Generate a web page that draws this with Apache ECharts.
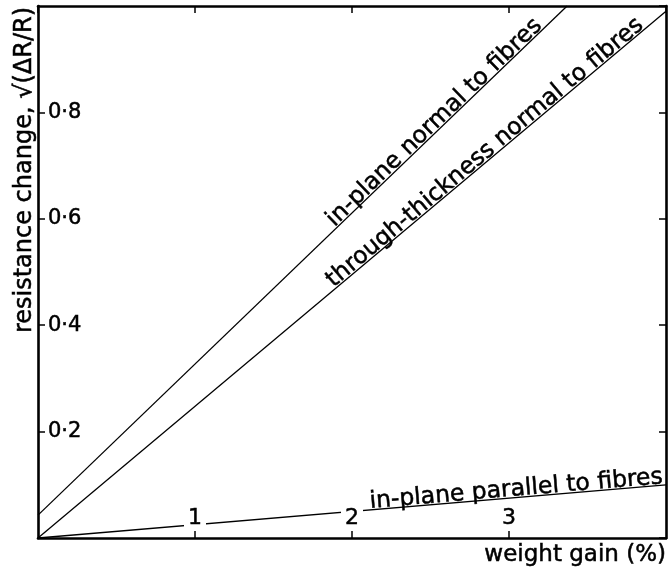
<!DOCTYPE html>
<html><head><meta charset="utf-8">
<script src="https://cdn.jsdelivr.net/npm/echarts@6/dist/echarts.min.js"></script>
<style>html,body{margin:0;padding:0;background:#fff}#c{width:670px;height:568px}</style>
</head><body><div id="c"></div>
<script>
// ---- data ----
const xTickValues = [1, 2, 3];
const yTickValues = [0.2, 0.4, 0.6, 0.8];
const yTickLabels = ['0·2', '0·4', '0·6', '0·8'];
const seriesNames = ['in-plane normal to fibres', 'through-thickness normal to fibres', 'in-plane parallel to fibres'];
const normalX = [0, 3.37];
const normalY = [0.043, 1.0];
const thickX = [0, 4.0];
const thickY = [0, 0.99];
const parallelX = [0, 4.0];
const parallelY = [0, 0.10];
const labelAtX = [2.56, 2.88, 3.05];
const xTitle = 'weight gain (%)';
const yTitle = 'resistance change, √(ΔR/R)';

const FONT = '"DejaVu Sans", "Noto Sans", sans-serif';
const chart = echarts.init(document.getElementById('c'), null, {renderer: 'canvas'});
const pts = (xs, ys) => xs.map((x, i) => [x, ys[i]]);
const lineSeries = (name, xs, ys) => ({
  name, type: 'line', data: pts(xs, ys), showSymbol: false, silent: true, clip: true,
  xAxisIndex: 0, yAxisIndex: 0,
  lineStyle: {color: '#000', width: 1.3}, z: 2
});
const mkLine = () => ({show: true, onZero: false, lineStyle: {color: '#000', width: 2.6}});
const mkTick = () => ({show: true, inside: true, length: 7, lineStyle: {color: '#000', width: 1.5}});

chart.setOption({
  animation: false,
  backgroundColor: '#fff',
  grid: {left: 38, right: 4, top: 6, bottom: 30},
  xAxis: [
    {type: 'value', min: 0, max: 4, interval: 1, position: 'bottom', z: 5,
     axisLine: mkLine(), axisTick: mkTick(), splitLine: {show: false},
     axisLabel: {inside: true, margin: 9, showMinLabel: false, showMaxLabel: false,
       formatter: v => xTickValues.includes(v) ? String(v) : '',
       color: '#000', fontSize: 22, fontFamily: FONT, backgroundColor: '#fff', padding: [0, 4],
       textBorderColor: '#000', textBorderWidth: 0.5}},
    {type: 'value', min: 0, max: 4, interval: 1, position: 'top',
     axisLine: mkLine(), axisTick: mkTick(), splitLine: {show: false}, axisLabel: {show: false}}
  ],
  yAxis: [
    {type: 'value', min: 0, max: 1, interval: 0.2, position: 'left',
     axisLine: mkLine(), axisTick: mkTick(), splitLine: {show: false},
     axisLabel: {inside: true, margin: 10, showMinLabel: false, showMaxLabel: false,
       formatter: v => { const i = yTickValues.findIndex(t => Math.abs(t - v) < 1e-6); return i >= 0 ? yTickLabels[i] : ''; },
       color: '#000', fontSize: 21, fontFamily: FONT, textBorderColor: '#000', textBorderWidth: 0.5}},
    {type: 'value', min: 0, max: 1, interval: 0.2, position: 'right',
     axisLine: mkLine(), axisTick: mkTick(), splitLine: {show: false}, axisLabel: {show: false}}
  ],
  series: [
    lineSeries(seriesNames[0], normalX, normalY),
    lineSeries(seriesNames[1], thickX, thickY),
    lineSeries(seriesNames[2], parallelX, parallelY)
  ]
});

// ---- labels placed along their lines, via the chart's own coordinate conversion ----
const finder = {xAxisIndex: 0, yAxisIndex: 0};
const lines = [[normalX, normalY], [thickX, thickY], [parallelX, parallelY]];
const txt = (text, size) => ({text, fill: '#000', font: size + 'px ' + FONT, stroke: '#000', lineWidth: 0.5});
const graphics = lines.map(([xs, ys], k) => {
  const p0 = chart.convertToPixel(finder, [xs[0], ys[0]]);
  const p1 = chart.convertToPixel(finder, [xs[1], ys[1]]);
  const a = Math.atan2(-(p1[1] - p0[1]), p1[0] - p0[0]);
  const t = (labelAtX[k] - xs[0]) / (xs[1] - xs[0]);
  const pa = chart.convertToPixel(finder, [labelAtX[k], ys[0] + t * (ys[1] - ys[0])]);
  const d = -4;
  return {type: 'text', x: pa[0] - Math.sin(a) * d, y: pa[1] - Math.cos(a) * d, rotation: a, z: 10,
    style: Object.assign(txt(seriesNames[k], 23.5), {align: 'center', verticalAlign: 'bottom'})};
});
graphics.push({type: 'text', x: 25, y: 170, rotation: Math.PI / 2, z: 10,
  style: Object.assign(txt(yTitle, 24), {align: 'center', verticalAlign: 'middle'})});
graphics.push({type: 'text', x: 666, y: 555, z: 10,
  style: Object.assign(txt(xTitle, 23), {align: 'right', verticalAlign: 'middle'})});
chart.setOption({graphic: graphics});
</script>
</body></html>
